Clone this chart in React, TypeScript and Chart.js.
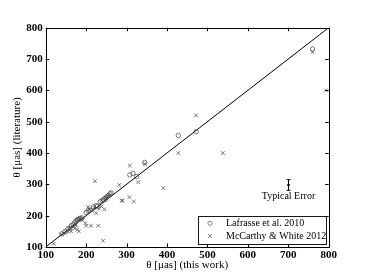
import React, { useEffect, useRef } from "react";
import { Chart, registerables } from "chart.js";

Chart.register(...registerables);

// ---- data ----
const lafrasseLabel = "Lafrasse et al. 2010";
const lafrasseX = [140, 148, 155, 160, 163, 168, 172, 175, 178, 180, 183, 186, 190, 200, 205, 210, 218, 225, 228, 235, 240, 243, 246, 250, 253, 256, 259, 262, 308, 316, 325, 345, 428, 472, 760];
const lafrasseY = [142, 150, 158, 160, 168, 172, 178, 183, 186, 188, 190, 192, 193, 210, 215, 218, 228, 232, 230, 245, 248, 250, 255, 258, 262, 265, 270, 273, 330, 335, 325, 370, 456, 468, 732];

const mccarthyLabel = "McCarthy & White 2012";
const mccarthyX = [120, 138, 145, 150, 155, 160, 163, 168, 172, 175, 178, 182, 185, 190, 198, 200, 205, 208, 212, 215, 220, 222, 225, 230, 232, 238, 242, 245, 248, 250, 255, 282, 288, 290, 307, 308, 318, 329, 345, 391, 428, 472, 538, 760, 793];
const mccarthyY = [110, 140, 143, 148, 150, 160, 150, 165, 160, 170, 155, 150, 190, 185, 176, 168, 228, 220, 168, 215, 225, 310, 208, 168, 222, 230, 120, 220, 250, 255, 262, 298, 248, 248, 259, 360, 245, 307, 365, 288, 400, 520, 400, 722, 600];

const oneToOne = [100, 800];
const axisMin = 100;
const axisMax = 800;
const tickStep = 100;

const errorX = 700;
const errorY = 298;
const errorHalf = 17;
const errorText = "Typical Error";

const xTitle = "θ [μas] (this work)";
const yTitle = "θ [μas] (literature)";

const SERIF = "'Liberation Serif', 'DejaVu Serif', serif";

const framePlugin = {
  id: "frame",
  afterDraw(chart: any) {
    const { ctx, chartArea: a, scales } = chart;
    const xs = scales.x;
    const ys = scales.y;
    ctx.save();
    ctx.strokeStyle = "#000";
    ctx.lineWidth = 1;
    ctx.strokeRect(Math.round(a.left) + 0.5, Math.round(a.top) + 0.5, Math.round(a.right - a.left), Math.round(a.bottom - a.top));
    const tl = 3.5;
    ctx.beginPath();
    xs.ticks.forEach((t: any) => {
      const px = Math.round(xs.getPixelForValue(t.value)) + 0.5;
      ctx.moveTo(px, a.bottom);
      ctx.lineTo(px, a.bottom - tl);
      ctx.moveTo(px, a.top);
      ctx.lineTo(px, a.top + tl);
    });
    ys.ticks.forEach((t: any) => {
      const py = Math.round(ys.getPixelForValue(t.value)) + 0.5;
      ctx.moveTo(a.left, py);
      ctx.lineTo(a.left + tl, py);
      ctx.moveTo(a.right, py);
      ctx.lineTo(a.right - tl, py);
    });
    ctx.stroke();

    // typical error bar
    const ex = Math.round(xs.getPixelForValue(errorX)) + 0.5;
    const eTop = ys.getPixelForValue(errorY + errorHalf);
    const eBot = ys.getPixelForValue(errorY - errorHalf);
    const eMid = ys.getPixelForValue(errorY);
    ctx.beginPath();
    ctx.moveTo(ex, eTop);
    ctx.lineTo(ex, eBot);
    ctx.moveTo(ex - 2, eTop);
    ctx.lineTo(ex + 2, eTop);
    ctx.moveTo(ex - 2, eBot);
    ctx.lineTo(ex + 2, eBot);
    ctx.stroke();
    ctx.beginPath();
    ctx.arc(ex, eMid, 1.3, 0, Math.PI * 2);
    ctx.fillStyle = "#000";
    ctx.fill();
    ctx.font = `10px ${SERIF}`;
    ctx.textAlign = "center";
    ctx.textBaseline = "top";
    ctx.fillText(errorText, ex, eBot + 1.5);

    // legend
    const lx = a.right - 131;
    const ly = a.bottom - 30.7;
    const lw = 128;
    const lh = 27.7;
    ctx.fillStyle = "#fff";
    ctx.fillRect(lx, ly, lw, lh);
    ctx.strokeStyle = "#000";
    ctx.lineWidth = 0.9;
    ctx.strokeRect(Math.round(lx) + 0.5, Math.round(ly) + 0.5, Math.round(lw), Math.round(lh));
    const rows = [
      { label: chart.data.datasets[0].label, style: "circle" },
      { label: chart.data.datasets[1].label, style: "cross" },
    ];
    ctx.textAlign = "left";
    ctx.textBaseline = "middle";
    ctx.font = `10px ${SERIF}`;
    rows.forEach((r, i) => {
      const cy = ly + 7 + i * 12.7;
      const mx = lx + 12.3;
      ctx.strokeStyle = "#555";
      ctx.lineWidth = 0.7;
      ctx.beginPath();
      if (r.style === "circle") {
        ctx.arc(mx, cy, 2.1, 0, Math.PI * 2);
      } else {
        ctx.moveTo(mx - 2, cy - 2);
        ctx.lineTo(mx + 2, cy + 2);
        ctx.moveTo(mx - 2, cy + 2);
        ctx.lineTo(mx + 2, cy - 2);
      }
      ctx.stroke();
      ctx.fillStyle = "#000";
      ctx.fillText(r.label, lx + 28.3, cy + 0.5);
    });
    ctx.restore();
  },
};

export default function App() {
  const ref = useRef<HTMLCanvasElement | null>(null);
  useEffect(() => {
    if (!ref.current) return;
    const tickFont = { family: SERIF, size: 11, weight: "bold" as const };
    const titleFont = { family: SERIF, size: 11 };
    const chart = new Chart(ref.current, {
      type: "scatter",
      data: {
        datasets: [
          {
            label: lafrasseLabel,
            data: lafrasseX.map((x, i) => ({ x, y: lafrasseY[i] })),
            pointStyle: "circle",
            pointRadius: 2.2,
            borderColor: "#444",
            borderWidth: 0.7,
            backgroundColor: "rgba(0,0,0,0)",
          },
          {
            label: mccarthyLabel,
            data: mccarthyX.map((x, i) => ({ x, y: mccarthyY[i] })),
            pointStyle: "crossRot",
            pointRadius: 2.6,
            borderColor: "#444",
            borderWidth: 0.7,
            backgroundColor: "rgba(0,0,0,0)",
          },
          {
            label: "1:1",
            data: oneToOne.map((v) => ({ x: v, y: v })),
            showLine: true,
            pointRadius: 0,
            borderColor: "#000",
            borderWidth: 1,
          },
        ],
      },
      options: {
        animation: false,
        responsive: false,
        devicePixelRatio: 1,
        layout: { padding: { left: 0, right: 37.3, top: 27.7, bottom: 0 } },
        plugins: { legend: { display: false }, tooltip: { enabled: false } },
        scales: {
          x: {
            type: "linear",
            min: axisMin,
            max: axisMax,
            ticks: { stepSize: tickStep, padding: 2, font: tickFont, color: "#000" },
            grid: { display: false, drawTicks: false },
            border: { display: false },
            title: { display: true, text: xTitle, font: titleFont, color: "#000", padding: { top: 0, bottom: 4.7 } },
            afterFit: (s: any) => {
              s.height = 29;
            },
          },
          y: {
            type: "linear",
            min: axisMin,
            max: axisMax,
            ticks: { stepSize: tickStep, padding: 3, font: tickFont, color: "#000" },
            grid: { display: false, drawTicks: false },
            border: { display: false },
            title: { display: true, text: yTitle, font: titleFont, color: "#000", padding: { top: 10.4, bottom: 0 } },
            afterFit: (s: any) => {
              s.width = 45.7;
            },
          },
        },
      },
      plugins: [framePlugin],
    });
    return () => chart.destroy();
  }, []);
  return (
    <div style={{ position: "fixed", left: 0, top: 0, width: 366, height: 276, background: "#fff" }}>
      <canvas ref={ref} width={366} height={276} style={{ display: "block", width: 366, height: 276 }} />
    </div>
  );
}
